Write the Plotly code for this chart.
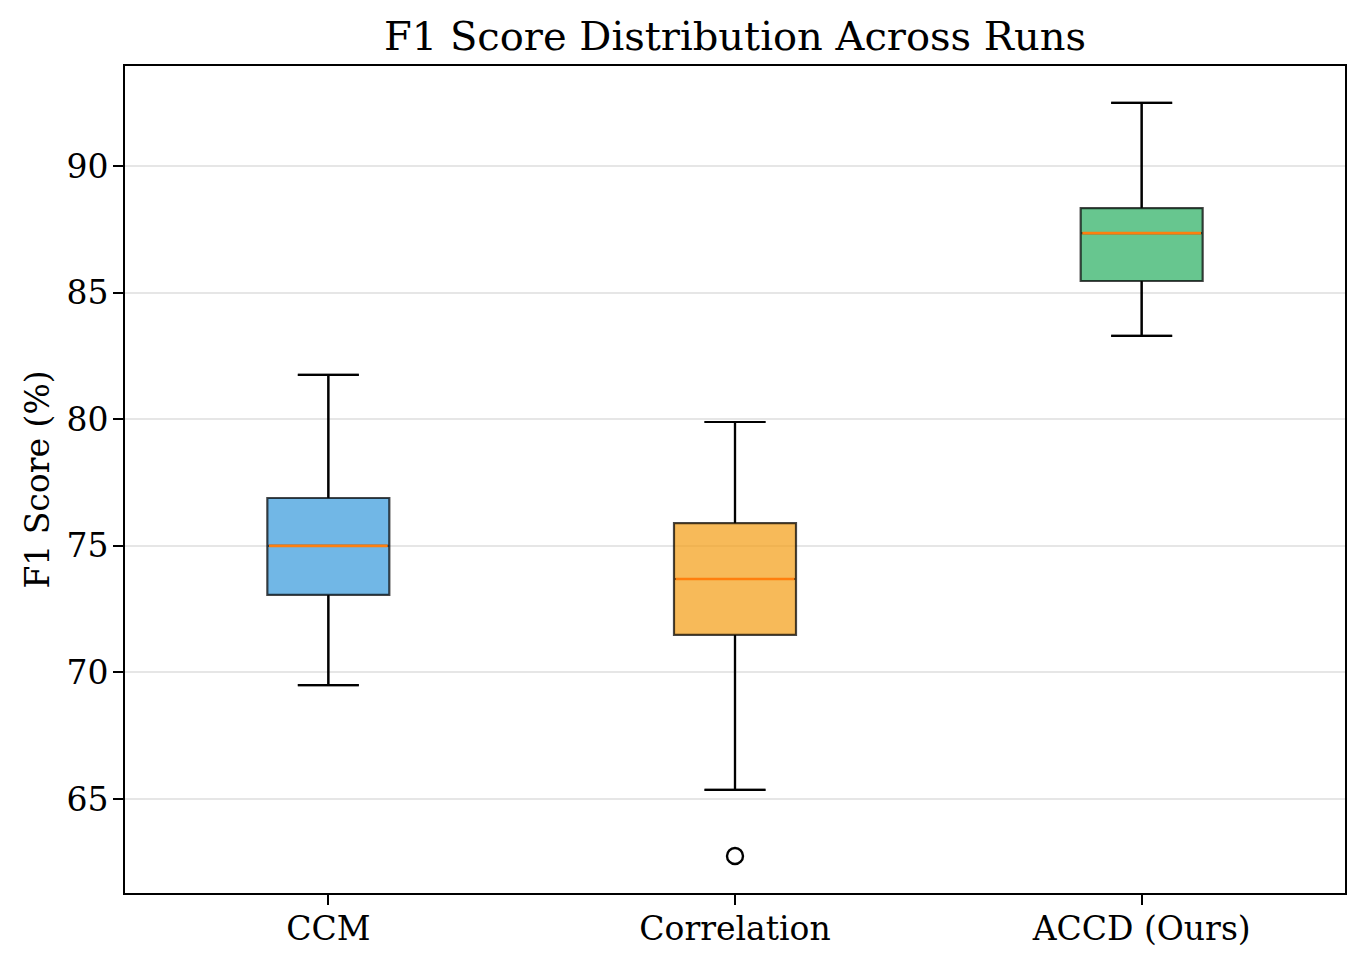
import plotly.graph_objects as go

# ---- data ----
methods = ["CCM", "Correlation", "ACCD (Ours)"]
positions = [1, 2, 3]
lower_whisker = [69.5, 65.36, 83.29]
q1_vals = [73.06, 71.48, 85.46]
medians = [75.0, 73.69, 87.35]
q3_vals = [76.89, 75.9, 88.34]
upper_whisker = [81.75, 79.89, 92.49]
outlier_pos = [2]
outlier_vals = [62.75]
fill_colors = ["rgba(52,152,219,0.7)", "rgba(243,156,18,0.7)", "rgba(39,174,96,0.7)"]
y_ticks = [65, 70, 75, 80, 85, 90]

box_w = 0.3
cap_w = box_w / 2
FONT = "DejaVu Serif"

fig = go.Figure()

for i in range(len(methods)):
    fig.add_trace(go.Box(
        x=[positions[i]],
        q1=[q1_vals[i]], median=[medians[i]], q3=[q3_vals[i]],
        lowerfence=[lower_whisker[i]], upperfence=[upper_whisker[i]],
        width=box_w, whiskerwidth=0.5,
        fillcolor=fill_colors[i],
        line=dict(color="rgba(0,0,0,0.72)", width=2.2),
        boxpoints=False, showlegend=False, hoverinfo="skip",
    ))

# black whiskers and caps on top
wx, wy = [], []
for i in range(len(methods)):
    p = positions[i]
    wx += [p, p, None, p, p, None,
           p - cap_w / 2, p + cap_w / 2, None, p - cap_w / 2, p + cap_w / 2, None]
    wy += [q3_vals[i], upper_whisker[i], None, q1_vals[i], lower_whisker[i], None,
           upper_whisker[i], upper_whisker[i], None, lower_whisker[i], lower_whisker[i], None]
fig.add_trace(go.Scatter(x=wx, y=wy, mode="lines", line=dict(color="black", width=2.2),
                         showlegend=False, hoverinfo="skip"))

# orange medians
mx, my = [], []
for i in range(len(methods)):
    p = positions[i]
    mx += [p - box_w / 2 + 0.004, p + box_w / 2 - 0.004, None]
    my += [medians[i], medians[i], None]
fig.add_trace(go.Scatter(x=mx, y=my, mode="lines", line=dict(color="#ff7f0e", width=2.6),
                         showlegend=False, hoverinfo="skip"))

# outliers
fig.add_trace(go.Scatter(x=outlier_pos, y=outlier_vals, mode="markers",
                         marker=dict(symbol="circle-open", size=16, color="black",
                                     line=dict(width=2.4, color="black")),
                         showlegend=False, hoverinfo="skip"))

fig.update_layout(
    width=1350, height=949,
    paper_bgcolor="white", plot_bgcolor="white",
    margin=dict(l=117, r=13, t=58, b=64),
    font=dict(family=FONT, color="black", size=33),
    title=dict(text="F1 Score Distribution Across Runs", xref="paper", x=0.5, xanchor="center",
               yref="container", y=0.9705, yanchor="middle",
               font=dict(family=FONT, size=40, color="black")),
    xaxis=dict(range=[0.5, 3.5], tickmode="array", tickvals=positions, ticktext=methods,
               automargin=False,
               showgrid=False, zeroline=False, showline=True, linecolor="black", linewidth=2,
               mirror=True, ticks="outside", ticklen=10, tickwidth=2, tickcolor="black",
               ticklabelstandoff=-5,
               tickfont=dict(family=FONT, size=33, color="black")),
    yaxis=dict(range=[61.29, 93.95], tickmode="array", tickvals=y_ticks,
               automargin=False,
               showgrid=True, gridcolor="#e6e6e6", gridwidth=1.6, zeroline=False,
               showline=True, linecolor="black", linewidth=2, mirror=True,
               ticks="outside", ticklen=10, tickwidth=2, tickcolor="black",
               ticklabelstandoff=-2,
               tickfont=dict(family=FONT, size=33, color="black"),
               title=dict(text="F1 Score (%)", font=dict(family=FONT, size=33, color="black"),
                          standoff=7)),
)

fig.write_html("out.html")
